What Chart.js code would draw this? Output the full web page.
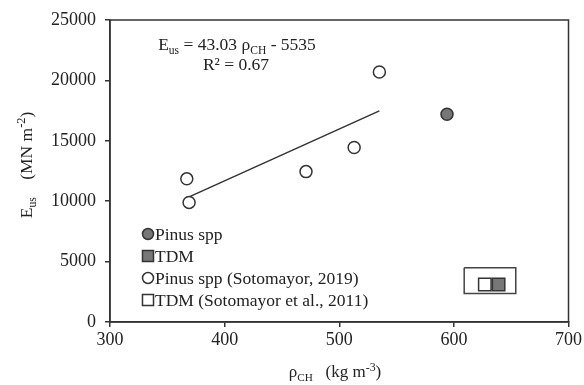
<!DOCTYPE html>
<html>
<head>
<meta charset="utf-8">
<script src="https://cdn.jsdelivr.net/npm/chart.js@4.4.1/dist/chart.umd.min.js"></script>
<style>
  html, body { margin: 0; padding: 0; background: #fff; }
  canvas { display: block; }
</style>
</head>
<body>
<canvas id="grafico" width="584" height="385"></canvas>
<script>
// valores
const pinusX = [594];
const pinusY = [17200];
const tdmX = [639];
const tdmY = [3100];
const sotoX = [367, 369, 471, 513, 535];
const sotoY = [11850, 9900, 12450, 14450, 20700];
const sotoTdmX = [627];
const sotoTdmY = [3100];
const ajusteX = [370, 535];
const ajusteY = [10400, 17480];
const caixaX = [609, 654, 654, 609, 609];
const caixaY = [4500, 4500, 2350, 2350, 4500];
const ticksX = [300, 400, 500, 600, 700];
const ticksY = [0, 5000, 10000, 15000, 20000, 25000];
const legendas = ['Pinus spp', 'TDM', 'Pinus spp (Sotomayor, 2019)', 'TDM (Sotomayor et al., 2011)'];

const FONTE = 'Liberation Serif, Times New Roman, serif';
const COR = '#222';

function pontos(xs, ys) {
    return xs.map((x, i) => ({ x: x, y: ys[i] }));
}

// escreve texto com sub/sobrescritos, centrado em x
function textoRico(ctx, partes, x, y, tam) {
    const tamanho = p => p.s === 'sub' ? tam * 0.66 : (p.s === 'sup' ? tam * 0.7 : tam);
    let total = 0;
    partes.forEach(p => {
        ctx.font = tamanho(p) + 'px ' + FONTE;
        total += ctx.measureText(p.t).width;
    });
    let cx = x - total / 2;
    partes.forEach(p => {
        ctx.font = tamanho(p) + 'px ' + FONTE;
        let dy = 0;
        if (p.s === 'sub') dy = tam * 0.22;
        if (p.s === 'sup') dy = -tam * 0.38;
        ctx.fillText(p.t, cx, y + dy);
        cx += ctx.measureText(p.t).width;
    });
}

const extras = {
    id: 'extras',
    afterDraw(chart) {
        const ctx = chart.ctx;
        const a = chart.chartArea;
        ctx.save();
        // moldura
        ctx.strokeStyle = '#333';
        ctx.lineWidth = 1.5;
        ctx.strokeRect(a.left, a.top, a.right - a.left, a.bottom - a.top);

        ctx.fillStyle = COR;
        ctx.textAlign = 'left';
        ctx.textBaseline = 'alphabetic';

        // equacao
        textoRico(ctx, [{ t: 'E' }, { t: 'us', s: 'sub' }, { t: ' = 43.03 ρ' }, { t: 'CH', s: 'sub' }, { t: ' - 5535' }], 237, 50, 17.5);
        textoRico(ctx, [{ t: 'R² = 0.67' }], 236, 70, 17.5);

        // titulo eixo x
        textoRico(ctx, [{ t: 'ρ' }, { t: 'CH', s: 'sub' }, { t: '   (kg m' }, { t: '-3', s: 'sup' }, { t: ')' }], 335, 377, 17);

        // titulo eixo y
        ctx.save();
        ctx.translate(32, 165);
        ctx.rotate(-Math.PI / 2);
        textoRico(ctx, [{ t: 'E' }, { t: 'us', s: 'sub' }, { t: '    (MN m' }, { t: '-2', s: 'sup' }, { t: ')' }], 0, 0, 17.5);
        ctx.restore();

        // legenda
        const bases = [82, 60, 38, 16];
        for (let i = 0; i < 4; i++) {
            const ds = chart.data.datasets[i];
            const by = a.bottom - bases[i];
            const cy = by - 6;
            ctx.lineWidth = ds.borderWidth;
            ctx.strokeStyle = ds.borderColor;
            ctx.fillStyle = ds.backgroundColor;
            Chart.helpers.drawPoint(ctx, {
                pointStyle: ds.pointStyle,
                radius: ds.pointStyle === 'rect' ? 7.8 : 5.5,
                borderWidth: ds.borderWidth,
                rotation: 0
            }, a.left + 38, cy);
            ctx.fillStyle = COR;
            ctx.font = '17.5px ' + FONTE;
            ctx.fillText(legendas[i], a.left + 45, by);
        }
        ctx.restore();
    }
};

new Chart(document.getElementById('grafico'), {
    type: 'scatter',
    data: {
        datasets: [
            {
                label: legendas[0],
                data: pontos(pinusX, pinusY),
                pointStyle: 'circle',
                pointRadius: 6,
                backgroundColor: '#777',
                borderColor: '#333',
                borderWidth: 1.5,
                order: 0
            },
            {
                label: legendas[1],
                data: pontos(tdmX, tdmY),
                pointStyle: 'rect',
                pointRadius: 8.8,
                backgroundColor: '#777',
                borderColor: '#333',
                borderWidth: 1.5,
                order: 0
            },
            {
                label: legendas[2],
                data: pontos(sotoX, sotoY),
                pointStyle: 'circle',
                pointRadius: 6,
                backgroundColor: '#fff',
                borderColor: '#333',
                borderWidth: 1.5,
                order: 0
            },
            {
                label: legendas[3],
                data: pontos(sotoTdmX, sotoTdmY),
                pointStyle: 'rect',
                pointRadius: 8.8,
                backgroundColor: '#fff',
                borderColor: '#333',
                borderWidth: 1.5,
                order: 0
            },
            {
                label: 'ajuste',
                data: pontos(ajusteX, ajusteY),
                showLine: true,
                pointRadius: 0,
                borderColor: '#333',
                borderWidth: 1.5,
                order: 3
            },
            {
                label: 'caixa',
                data: pontos(caixaX, caixaY),
                showLine: true,
                pointRadius: 0,
                borderColor: '#444',
                borderWidth: 1.5,
                backgroundColor: 'transparent',
                order: 5
            }
        ]
    },
    options: {
        responsive: false,
        animation: false,
        devicePixelRatio: 1,
        layout: { padding: { top: 20, right: 15, left: 0, bottom: 0 } },
        plugins: {
            legend: { display: false },
            tooltip: { enabled: false }
        },
        scales: {
            x: {
                type: 'linear',
                min: 300,
                max: 700,
                afterBuildTicks: s => { s.ticks = ticksX.map(v => ({ value: v })); },
                afterFit: s => { s.height = 63; },
                grid: { drawOnChartArea: false, drawTicks: true, tickLength: 5, color: '#333', lineWidth: 1.5 },
                border: { display: true, color: '#333', width: 1.5 },
                ticks: { color: COR, padding: 2, font: { family: FONTE, size: 18 } }
            },
            y: {
                min: 0,
                max: 25000,
                afterBuildTicks: s => { s.ticks = ticksY.map(v => ({ value: v })); },
                afterFit: s => { s.width = 110; },
                grid: { drawOnChartArea: false, drawTicks: true, tickLength: 5, color: '#333', lineWidth: 1.5 },
                border: { display: true, color: '#333', width: 1.5 },
                ticks: { color: COR, padding: 9, font: { family: FONTE, size: 18 }, callback: v => String(v) }
            }
        }
    },
    plugins: [extras]
});
</script>
</body>
</html>
